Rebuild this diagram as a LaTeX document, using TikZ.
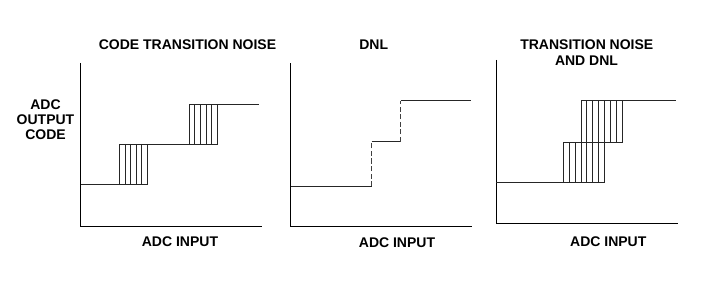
\documentclass[tikz,border=0pt]{standalone}
\usepackage{fontspec}
\setmainfont{Liberation Sans}
\begin{document}
\begin{tikzpicture}[x=1pt,y=-1pt,
  lbl/.style={inner sep=0pt,anchor=base,font=\fontsize{14}{15}\selectfont\bfseries},
  ax/.style={line width=0.9pt,black},
  stair/.style={line width=0.8pt,black!85},
  hatch/.style={line width=0.7pt,black!85},
  dsh/.style={line width=0.8pt,black!75,dash pattern=on 5pt off 2.5pt}]
\useasboundingbox (0,0) rectangle (727,283);
% titles
\node[lbl] (t1) at (187.5,50) {CODE TRANSITION NOISE};
\node[lbl] (t2) at (373.7,49.5) {DNL};
\node[lbl] (t3a) at (586.8,49.5) {TRANSITION NOISE};
\node[lbl] (t3b) at (586.5,66) {AND DNL};
% y label
\node[lbl] (y1) at (45.5,110) {ADC};
\node[lbl] (y2) at (45.5,125) {OUTPUT};
\node[lbl] (y3) at (45.5,140) {CODE};
% x labels
\node[lbl] (x1) at (180,246.7) {ADC INPUT};
\node[lbl] (x2) at (397,247.3) {ADC INPUT};
\node[lbl] (x3) at (608.3,246.7) {ADC INPUT};

% ---------- Panel 1 ----------
\draw[ax] (80.7,63) -- (80.7,226.7) -- (261.7,226.7);
\draw[stair] (80.7,184) -- (119.3,184);
\draw[stair] (119.3,144) rectangle (147.3,184);
\foreach \i in {1,...,4} \draw[hatch] ({119.3+\i*5.6},144) -- ({119.3+\i*5.6},184);
\draw[stair] (147.3,144) -- (189,144);
\draw[stair] (189,104.3) rectangle (217.5,144);
\foreach \i in {1,...,4} \draw[hatch] ({189+\i*5.7},104.3) -- ({189+\i*5.7},144);
\draw[stair] (217.5,104.3) -- (259.3,104.3);

% ---------- Panel 2 ----------
\draw[ax] (290.7,63.3) -- (290.7,226.7) -- (471.7,226.7);
\draw[stair] (290.7,186) -- (371.5,186);
\draw[dsh] (371.5,186) -- (371.5,141.7);
\draw[stair] (371.5,141.7) -- (400.5,141.7);
\draw[dsh] (400.5,141.7) -- (400.5,100.7);
\draw[stair] (400.5,100.7) -- (471,100.7);

% ---------- Panel 3 ----------
\draw[ax] (496,60) -- (496,223.3) -- (678.3,223.3);
\draw[stair] (496,182.5) -- (563.3,182.5);
\draw[stair] (563.3,142.5) rectangle (604.3,182.5);
\foreach \i in {1,...,6} \draw[hatch] ({563.3+\i*5.857},142.5) -- ({563.3+\i*5.857},182.5);
\draw[stair] (580.9,100.5) rectangle (621.9,142.5);
\foreach \i in {1,...,6} \draw[hatch] ({580.9+\i*5.857},100.5) -- ({580.9+\i*5.857},142.5);
\draw[stair] (621.9,100.5) -- (676,100.5);
\end{tikzpicture}
\end{document}
